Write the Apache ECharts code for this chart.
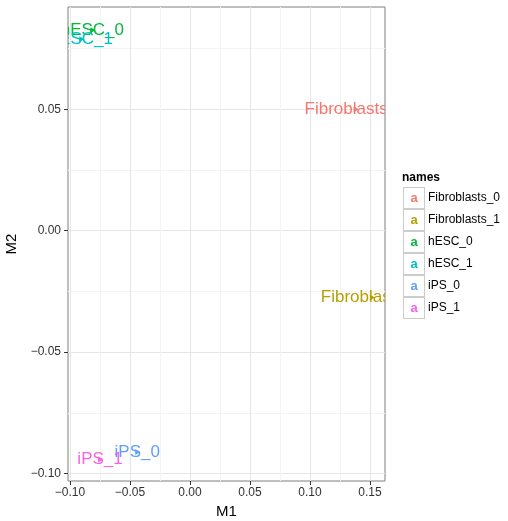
<!DOCTYPE html>
<html>
<head>
<meta charset="utf-8">
<script src="https://cdn.jsdelivr.net/npm/echarts@6/dist/echarts.min.js"></script>
<style>html,body{margin:0;padding:0;background:#fff;}#c{width:508px;height:521px;}</style>
</head>
<body>
<div id="c"></div>
<script>
// ---- data ----
const names = ['Fibroblasts_0', 'Fibroblasts_1', 'hESC_0', 'hESC_1', 'iPS_0', 'iPS_1'];
const m1 = [0.138, 0.1515, -0.0814, -0.0906, -0.044, -0.075];
const m2 = [0.0500, -0.0275, 0.0825, 0.0788, -0.0912, -0.0942];
const colors = ['#F8766D', '#B79F00', '#00BA38', '#00BFC4', '#619CFF', '#F564E3'];
const xTicks = [-0.10, -0.05, 0.00, 0.05, 0.10, 0.15];
const xMinor = [-0.075, -0.025, 0.025, 0.075, 0.125];
const yTicks = [-0.10, -0.05, 0.00, 0.05];
const yMinor = [-0.075, -0.025, 0.025, 0.075];
const xRange = [-0.1017, 0.1625];
const yRange = [-0.1031, 0.0921];

const FONT = '"Liberation Sans", Arial, Helvetica, sans-serif';
const fmt = v => (v < 0 ? '\u2212' : '') + Math.abs(v).toFixed(2);

const chart = echarts.init(document.getElementById('c'), null, {renderer: 'canvas'});

const rich = {t: {fontSize: 12, color: '#000', fontFamily: FONT, padding: [0, 0, 0, 4]}};
colors.forEach((c, i) => {
  rich['b' + i] = {
    width: 20, height: 20, borderColor: '#cccccc', borderWidth: 1, backgroundColor: '#ffffff',
    align: 'center', verticalAlign: 'middle', color: c, fontSize: 13, fontWeight: 'bold', fontFamily: FONT
  };
});

const series = names.map((n, i) => ({
  name: n,
  type: 'custom',
  clip: true,
  color: colors[i],
  data: [[m1[i], m2[i]]],
  renderItem: (params, api) => {
    const p = api.coord([api.value(0), api.value(1)]);
    return {
      type: 'group',
      children: [
        {type: 'text', x: p[0], y: p[1],
          style: {text: n, fill: colors[i], font: '17px ' + FONT, align: 'center', verticalAlign: 'middle'}},
        {type: 'polygon', shape: {points: [[p[0] - 2, p[1] - 3], [p[0] + 3, p[1]], [p[0] - 2, p[1] + 3]]},
          style: {fill: colors[i]}}
      ]
    };
  }
}));

function valueAxis(range, ticks, minor, isX) {
  return [
    {
      type: 'value', min: range[0], max: range[1], position: isX ? 'bottom' : 'left',
      name: isX ? 'M1' : 'M2', nameLocation: 'middle', nameGap: isX ? 22 : 39,
      nameRotate: isX ? 0 : 90,
      nameTextStyle: {fontSize: 15, color: '#000', fontFamily: FONT},
      axisLine: {show: false, onZero: false},
      axisTick: {show: true, customValues: ticks, length: 4, lineStyle: {color: '#333', width: 1}},
      axisLabel: {customValues: ticks, formatter: fmt, fontSize: 12, color: '#333', fontFamily: FONT, margin: isX ? 6 : 7},
      splitLine: {show: true, lineStyle: {color: '#e6e6e6', width: 1}}
    },
    {
      type: 'value', min: range[0], max: range[1], position: isX ? 'bottom' : 'left',
      axisLine: {show: false, onZero: false},
      axisTick: {show: false, customValues: minor},
      axisLabel: {show: false, customValues: minor},
      splitLine: {show: true, lineStyle: {color: '#f4f4f4', width: 1}}
    }
  ];
}

chart.setOption({
  animation: false,
  backgroundColor: '#ffffff',
  title: {text: 'names', left: 397, top: 167, textStyle: {fontSize: 12, fontWeight: 'bold', color: '#000', fontFamily: FONT}},
  grid: {left: 68, top: 7, width: 317, height: 474, show: true, borderColor: '#7f7f7f', borderWidth: 1,
    backgroundColor: '#ffffff', containLabel: false, outerBoundsMode: 'none'},
  xAxis: valueAxis(xRange, xTicks, xMinor, true),
  yAxis: valueAxis(yRange, yTicks, yMinor, false),
  legend: {
    orient: 'vertical', left: 394, top: 182, itemGap: 0, itemWidth: 0, itemHeight: 0,
    selectedMode: false,
    data: names,
    formatter: n => '{b' + names.indexOf(n) + '|a}{t|' + n + '}',
    textStyle: {rich: rich}
  },
  series: series
});
</script>
</body>
</html>
